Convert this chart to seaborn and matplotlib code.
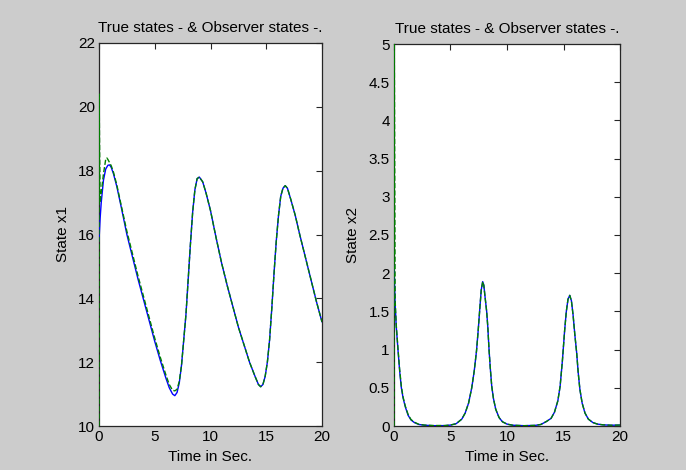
import matplotlib
matplotlib.use("Agg")
import matplotlib.pyplot as plt
import seaborn as sns
import pandas as pd

# ---- data ----
t_x1_true = [0, 0.1, 0.2, 0.4, 0.6, 0.8, 0.95, 1.1, 1.3, 1.6, 2.0, 2.5, 3.0, 3.5, 4.0, 4.5,
             5.0, 5.5, 6.0, 6.3, 6.6, 6.8, 7.0, 7.2, 7.4, 7.6, 7.8, 8.0, 8.2, 8.4, 8.6, 8.8,
             9.0, 9.3, 9.6, 10.0, 10.5, 11.0, 11.5, 12.0, 12.5, 13.0, 13.5, 14.0, 14.3, 14.5,
             14.7, 14.9, 15.1, 15.3, 15.5, 15.7, 15.9, 16.1, 16.3, 16.5, 16.7, 16.9, 17.2,
             17.6, 18.0, 18.5, 19.0, 19.5, 20.0]
x1_true = [15.8, 16.5, 17.0, 17.7, 18.05, 18.17, 18.18, 18.1, 17.9, 17.5, 16.85, 16.0, 15.3,
           14.6, 13.95, 13.3, 12.65, 12.05, 11.5, 11.2, 11.0, 10.95, 11.05, 11.35, 11.9, 12.7,
           13.5, 14.6, 15.7, 16.7, 17.4, 17.75, 17.8, 17.65, 17.3, 16.75, 15.9, 15.1, 14.4,
           13.75, 13.1, 12.55, 12.0, 11.55, 11.3, 11.23, 11.3, 11.55, 12.0, 12.7, 13.7, 14.8,
           15.8, 16.6, 17.2, 17.45, 17.53, 17.45, 17.1, 16.6, 16.0, 15.3, 14.6, 13.9, 13.26]

t_x1_obs = [0, 0.01, 0.1, 0.2, 0.4, 0.6, 0.7, 0.8, 0.95, 1.1, 1.3, 1.6, 2.0, 2.5, 3.0, 3.5,
            4.0, 4.5, 5.0, 5.5, 6.0, 6.3, 6.6, 6.8, 7.0, 7.2, 7.4, 7.6, 7.8, 8.0, 8.2, 8.4,
            8.6, 8.8, 9.0, 9.3, 9.6, 10.0, 10.5, 11.0, 11.5, 12.0, 12.5, 13.0, 13.5, 14.0,
            14.3, 14.5, 14.7, 14.9, 15.1, 15.3, 15.5, 15.7, 15.9, 16.1, 16.3, 16.5, 16.7,
            16.9, 17.2, 17.6, 18.0, 18.5, 19.0, 19.5, 20.0]
x1_obs = [10.0, 20.4, 17.0, 17.3, 17.9, 18.35, 18.4, 18.35, 18.25, 18.15, 17.95, 17.55, 16.9,
          16.1, 15.4, 14.7, 14.05, 13.4, 12.75, 12.15, 11.6, 11.3, 11.12, 11.1, 11.15, 11.4,
          11.9, 12.7, 13.5, 14.6, 15.7, 16.7, 17.4, 17.75, 17.8, 17.65, 17.3, 16.75, 15.9,
          15.1, 14.4, 13.75, 13.1, 12.55, 12.0, 11.55, 11.3, 11.23, 11.3, 11.55, 12.0, 12.7,
          13.7, 14.8, 15.8, 16.6, 17.2, 17.45, 17.53, 17.45, 17.1, 16.6, 16.0, 15.3, 14.6,
          13.9, 13.26]

t_x2_true = [0, 0.1, 0.2, 0.35, 0.5, 0.65, 0.8, 1.0, 1.25, 1.5, 1.8, 2.2, 2.7, 3.5, 4.5, 5.0,
             5.5, 6.0, 6.3, 6.6, 6.88, 7.1, 7.3, 7.45, 7.6, 7.72, 7.85, 7.95, 8.05, 8.2, 8.3,
             8.41, 8.52, 8.65, 8.8, 9.0, 9.3, 9.6, 10.0, 10.5, 11.5, 12.5, 13.0, 13.5, 13.9,
             14.2, 14.5, 14.7, 14.9, 15.1, 15.25, 15.4, 15.55, 15.7, 15.85, 16.0, 16.17, 16.3,
             16.45, 16.65, 16.9, 17.2, 17.6, 18.0, 18.5, 19.2, 20.0]
x2_true = [2.1, 1.6, 1.3, 1.0, 0.72, 0.5, 0.37, 0.25, 0.14, 0.08, 0.045, 0.02, 0.01, 0.004,
           0.005, 0.012, 0.03, 0.09, 0.17, 0.3, 0.5, 0.72, 0.98, 1.25, 1.55, 1.78, 1.89, 1.84,
           1.7, 1.5, 1.3, 1.0, 0.76, 0.52, 0.36, 0.22, 0.11, 0.055, 0.025, 0.01, 0.004, 0.008,
           0.02, 0.06, 0.1, 0.18, 0.33, 0.52, 0.85, 1.25, 1.5, 1.66, 1.71, 1.64, 1.45, 1.2,
           0.95, 0.7, 0.48, 0.3, 0.17, 0.09, 0.045, 0.025, 0.015, 0.01, 0.012]

t_x2_obs = [0, 0.005, 0.1, 0.2, 0.35, 0.5, 0.65, 0.8, 1.0, 1.25, 1.5, 1.8, 2.2, 2.7, 3.5, 4.5,
            5.0, 5.5, 6.0, 6.3, 6.6, 6.88, 7.1, 7.3, 7.45, 7.6, 7.72, 7.85, 7.95, 8.05, 8.2,
            8.3, 8.41, 8.52, 8.65, 8.8, 9.0, 9.3, 9.6, 10.0, 10.5, 11.5, 12.5, 13.0, 13.5,
            13.9, 14.2, 14.5, 14.7, 14.9, 15.1, 15.25, 15.4, 15.55, 15.7, 15.85, 16.0, 16.17,
            16.3, 16.45, 16.65, 16.9, 17.2, 17.6, 18.0, 18.5, 19.2, 20.0]
x2_obs = [0.0, 6.0, 1.65, 1.32, 1.02, 0.74, 0.52, 0.38, 0.26, 0.15, 0.085, 0.05, 0.022, 0.012,
          0.006, 0.006, 0.013, 0.03, 0.09, 0.17, 0.3, 0.5, 0.72, 0.98, 1.25, 1.55, 1.78, 1.89,
          1.84, 1.7, 1.5, 1.3, 1.0, 0.76, 0.52, 0.36, 0.22, 0.11, 0.055, 0.025, 0.01, 0.004,
          0.008, 0.02, 0.06, 0.1, 0.18, 0.33, 0.52, 0.85, 1.25, 1.5, 1.66, 1.71, 1.64, 1.45,
          1.2, 0.95, 0.7, 0.48, 0.3, 0.17, 0.09, 0.045, 0.025, 0.015, 0.01, 0.012]

title_text = "True states - & Observer states -."
xlabel_text = "Time in Sec."
ylabels = ["State x1", "State x2"]
x_ticks = [0, 5, 10, 15, 20]
y1_ticks = [10, 12, 14, 16, 18, 20, 22]
y2_ticks = [0, 0.5, 1, 1.5, 2, 2.5, 3, 3.5, 4, 4.5, 5]
y2_ticklabels = ["0", "0.5", "1", "1.5", "2", "2.5", "3", "3.5", "4", "4.5", "5"]

# ---- plotting ----
sns.set_style("white")
plt.rcParams['font.family'] = ['Liberation Sans', 'DejaVu Sans']
plt.rcParams['text.color'] = 'black'
plt.rcParams['axes.labelcolor'] = 'black'

W, H = 686, 470
fig = plt.figure(figsize=(W / 100, H / 100), dpi=100, facecolor="#cccccc")
ax1 = fig.add_axes([99 / W, (H - 426) / H, 223 / W, 383 / H])
ax2 = fig.add_axes([394 / W, (H - 426) / H, 226 / W, 382 / H])

df1t = pd.DataFrame({"t": t_x1_true, "v": x1_true})
df1o = pd.DataFrame({"t": t_x1_obs, "v": x1_obs})
df2t = pd.DataFrame({"t": t_x2_true, "v": x2_true})
df2o = pd.DataFrame({"t": t_x2_obs, "v": x2_obs})

for ax, dt, do, yt, ylab in [(ax1, df1t, df1o, y1_ticks, ylabels[0]),
                              (ax2, df2t, df2o, y2_ticks, ylabels[1])]:
    sns.lineplot(data=dt, x="t", y="v", ax=ax, color="#0000ff", lw=1.0,
                 estimator=None, sort=False, zorder=3)
    sns.lineplot(data=do, x="t", y="v", ax=ax, color="#008000", lw=1.0,
                 linestyle="--", dashes=(4, 2), estimator=None, sort=False, zorder=3)
    ax.set_xlim(0, 20)
    ax.set_ylim(yt[0], yt[-1])
    ax.set_xticks(x_ticks)
    ax.set_xticklabels([str(v) for v in x_ticks])
    ax.set_yticks(yt)
    ax.set_facecolor("white")
    for s in ax.spines.values():
        s.set_visible(True)
        s.set_color("#262626")
        s.set_linewidth(0.9)
    ax.tick_params(direction="in", length=4, width=0.8, top=True, right=True,
                   labelsize=11, colors="#262626", labelcolor="black", pad=3)
    ax.set_title(title_text, fontsize=11, pad=8, color="black")
    ax.set_xlabel(xlabel_text, fontsize=11, labelpad=4)
    ax.set_ylabel(ylab, fontsize=11, labelpad=6)

ax1.set_yticklabels([str(v) for v in y1_ticks])
ax2.set_yticklabels(y2_ticklabels)

fig.savefig("out.png", dpi=100, facecolor=fig.get_facecolor())
